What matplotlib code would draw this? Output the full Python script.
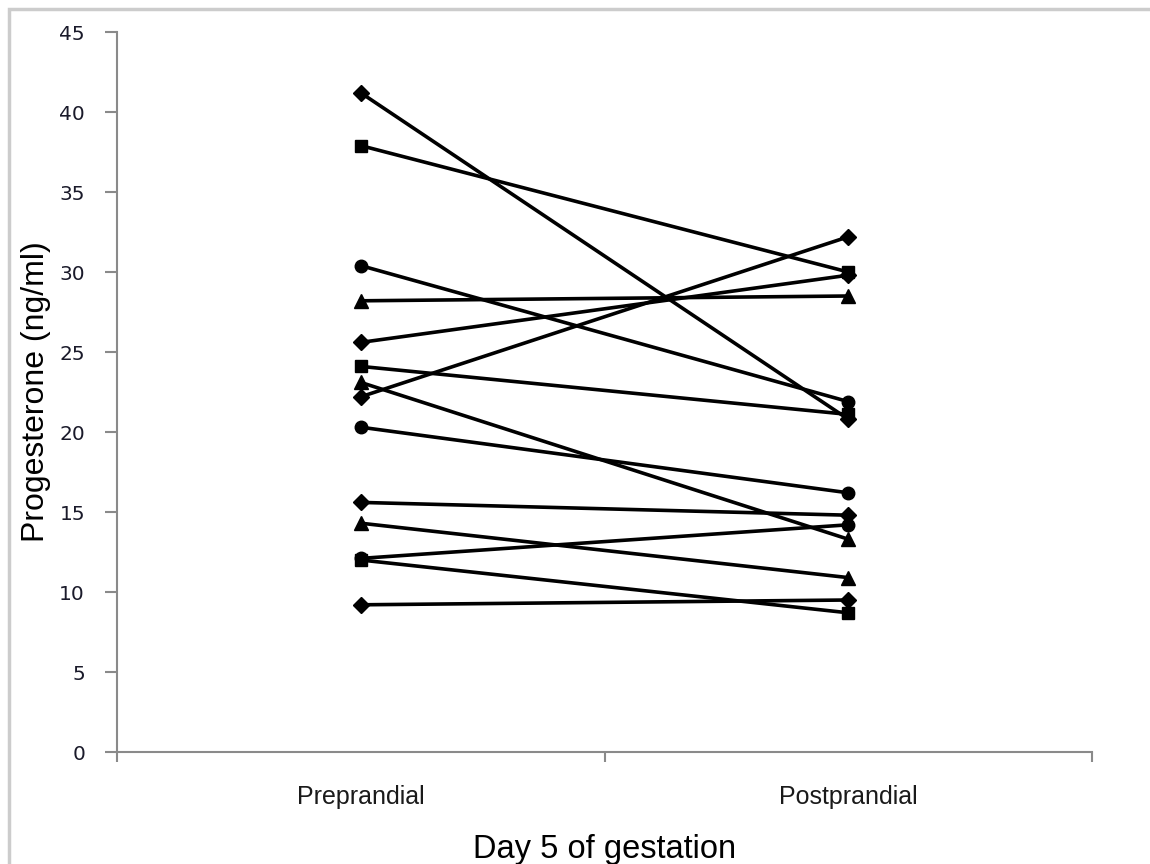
import matplotlib
matplotlib.use("Agg")
import matplotlib.pyplot as plt
from matplotlib.patches import Rectangle

categories = ["Preprandial", "Postprandial"]
preprandial = [41.2, 37.9, 30.4, 28.2, 25.6, 24.1, 23.1, 22.2, 20.3, 15.6, 14.3, 12.1, 12.0, 9.2]
postprandial = [20.8, 30.0, 21.9, 28.5, 29.8, 21.1, 13.3, 32.2, 16.2, 14.8, 10.9, 14.2, 8.7, 9.5]
markers = ["D", "s", "o", "^", "D", "s", "^", "D", "o", "D", "^", "o", "s", "D"]
yticks = [0, 5, 10, 15, 20, 25, 30, 35, 40, 45]

msize = {"D": 8.5, "s": 8.5, "o": 9.0, "^": 9.5}

fig = plt.figure(figsize=(11.5, 8.64), dpi=100)
fig.patches.append(Rectangle((9 / 1150, -0.1), 1.2, (864 - 9) / 864 + 0.1,
                             transform=fig.transFigure, fill=False,
                             edgecolor="#cccccc", linewidth=2.5))
ax = fig.add_axes([117 / 1150, 1 - 752 / 864, (1092 - 117) / 1150, (752 - 32) / 864])

x = [0, 1]
for pre, post, m in zip(preprandial, postprandial, markers):
    ax.plot(x, [pre, post], color="black", linewidth=2.6, marker=m,
            markersize=msize[m], markerfacecolor="black", markeredgecolor="black")

ax.set_xlim(-0.5, 1.5)
ax.set_ylim(0, 45)
ax.set_yticks(yticks)
ax.set_yticklabels([str(v) for v in yticks], fontsize=14.5, color="#1a1a2a")
ax.set_xticks([-0.5, 0.5, 1.5])
ax.set_xticklabels([])
ax.set_xticks(x, minor=True)
ax.set_xticklabels(categories, minor=True, fontsize=18, color="#1a1a1a",
                   family="Liberation Sans")
ax.tick_params(axis="x", which="minor", length=0, pad=24)
ax.tick_params(axis="x", which="major", length=7, width=1.5, color="#8a8a8a")
ax.tick_params(axis="y", length=9, width=1.5, color="#8a8a8a", pad=14)
for s in ["top", "right"]:
    ax.spines[s].set_visible(False)
for s in ["left", "bottom"]:
    ax.spines[s].set_color("#8a8a8a")
    ax.spines[s].set_linewidth(1.5)

ax.set_ylabel("Progesterone (ng/ml)", fontsize=23, color="black", labelpad=6,
              family="Liberation Sans")
ax.set_xlabel("Day 5 of gestation", fontsize=23.5, color="black", labelpad=18,
              family="Liberation Sans")

fig.savefig("out.png", dpi=100)
